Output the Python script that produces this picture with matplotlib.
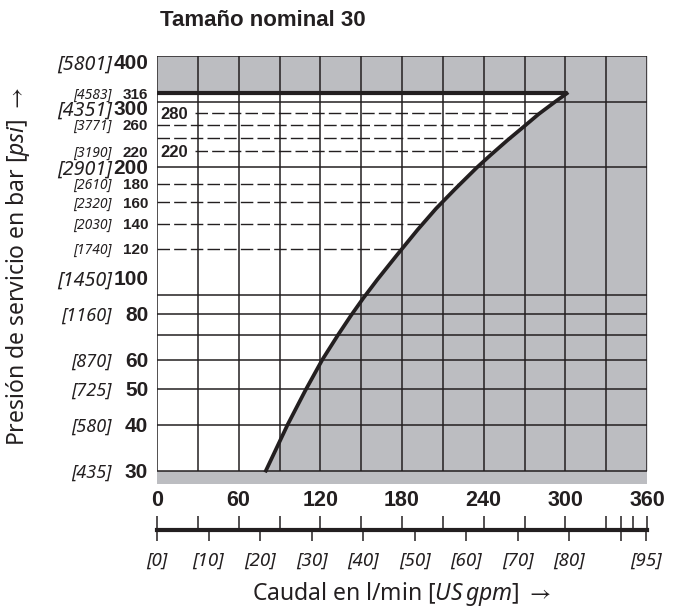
import numpy as np
import matplotlib
matplotlib.use('Agg')
import matplotlib.pyplot as plt
import matplotlib.transforms as mtransforms

plt.rcParams['font.family'] = ['Noto Sans', 'DejaVu Sans']
plt.rcParams['mathtext.fontset'] = 'custom'
plt.rcParams['mathtext.rm'] = 'Noto Sans'
plt.rcParams['mathtext.it'] = 'Noto Sans:italic'
plt.rcParams['mathtext.fallback'] = 'stixsans'

# limit curve: pressure in bar vs flow in l/min
curve_bar = [30, 40, 49.5, 60, 70, 79, 88, 99, 115.5, 135, 154, 174, 199,
             215, 236, 256, 278, 300, 316]
curve_lpm = [80, 96, 109, 121.5, 133, 142.5, 151.5, 162, 176.5, 191.5, 205,
             219, 235, 245, 257.5, 269, 280.5, 292.5, 301]
p_max = 316

# horizontal grid (solid) and the dashed pressure steps
grid_bar = [30, 40, 50, 60, 70, 80, 90, 200, 300, 400]
dashed_bar = [280, 260, 240, 220, 180, 160, 140, 120]
inner_labels = [280, 220]

# left hand labels, bar and [psi]
bar_ticks = [400, 316, 300, 260, 220, 200, 180, 160, 140, 120, 100, 80, 60, 50, 40, 30]
psi_ticks = [5801, 4583, 4351, 3771, 3190, 2901, 2610, 2320, 2030, 1740, 1450,
             1160, 870, 725, 580, 435]
big_ticks = [400, 300, 200, 100]
mid_ticks = [80, 60, 50, 40, 30]

# flow scales
lpm_grid = list(range(0, 361, 30))
lpm_labels = [0, 60, 120, 180, 240, 300, 360]
lpm_extra = [350]
gpm_ticks = [0, 10, 20, 30, 40, 50, 60, 70, 80, 90, 95]
gpm_labels = ['[0]', '[10]', '[20]', '[30]', '[40]', '[50]', '[60]', '[70]',
              '[80]', '', '[95]']
LPM_PER_GPM = 3.785

DARK = '#231f20'
GRAY = '#bcbdc1'
BOLD = ['Liberation Sans', 'DejaVu Sans']
Y_LOW = 27.6
Y_TOP = 400

fig = plt.figure(figsize=(6.75, 6.11), dpi=100)
ax = fig.add_axes([157/675, 1 - 484/611, 490/675, (484 - 55.7)/611])
ax.set_yscale('log')
ax.set_xlim(0, 360)
ax.set_ylim(Y_LOW, Y_TOP)
ax.axis('off')

# grey (not allowed) area: right of the curve plus the band above p_max
ax.fill_betweenx(curve_bar + [p_max, Y_TOP], curve_lpm + [0, 0], 360,
                 color=GRAY, lw=0, zorder=1)
ax.axhspan(Y_LOW, 30, color=GRAY, lw=0, zorder=1)

# grid
ax.vlines(lpm_grid, 30, Y_TOP, color=DARK, lw=1.1, zorder=2)
ax.hlines(grid_bar, 0, 360, color=DARK, lw=1.1, zorder=2)

# dashed lines stop at the curve
for p in dashed_bar:
    x_end = np.interp(p, curve_bar, curve_lpm)
    x0 = 28 if p in inner_labels else 0
    ax.plot([x0, x_end], [p, p], color=DARK, lw=1, dashes=(9, 3), zorder=2)
    if p in inner_labels:
        ax.text(2.3, p, str(p), fontsize=12, fontweight='bold', family=BOLD,
                color=DARK, ha='left', va='center_baseline', zorder=3)

ax.plot(curve_lpm, curve_bar, color=DARK, lw=2.7, zorder=4)
ax.hlines(p_max, 0, curve_lpm[-1], color=DARK, lw=3, zorder=4)

# left labels
trans = mtransforms.blended_transform_factory(ax.transAxes, ax.transData)
for b, psi in zip(bar_ticks, psi_ticks):
    if b in big_ticks:
        vs, ps = 15, 14.2
    elif b in mid_ticks:
        vs, ps = 15, 13
    else:
        vs, ps = 11, 10
    shift = {400: -6, 300: -6}.get(b, 0)
    tr = mtransforms.offset_copy(trans, fig=fig, y=shift, units='dots')
    ax.text(-0.018, b, str(b), transform=tr, ha='right', va='center_baseline',
            fontsize=vs, fontweight='bold', family=BOLD, color=DARK)
    ax.text(-0.092, b, f'[{psi}]', transform=tr, ha='right',
            va='center_baseline', fontsize=ps, style='italic', color=DARK)

# bottom flow scale
axb = fig.add_axes([157/675, 1 - 529.5/611, 490/675, 0])
axb.set_xlim(0, 360)
axb.set_yticks([])
for s in ['left', 'right', 'top']:
    axb.spines[s].set_visible(False)
axb.spines['bottom'].set_linewidth(3)
axb.spines['bottom'].set_color(DARK)
axb.set_xticks(lpm_labels)
axb.set_xticks(lpm_grid + lpm_extra + [gpm_ticks[9] * LPM_PER_GPM], minor=True)
axb.tick_params(axis='x', which='both', bottom=False, top=True,
                labelbottom=False, labeltop=True, direction='out',
                length=10, width=1.1, color=DARK, pad=3, labelsize=15.5,
                labelcolor=DARK)
for lab in axb.get_xticklabels():
    lab.set_fontweight('bold')
    lab.set_family(BOLD)

sec = axb.secondary_xaxis('bottom', functions=(lambda x: x / LPM_PER_GPM,
                                               lambda g: g * LPM_PER_GPM))
sec.set_xticks(gpm_ticks, labels=gpm_labels)
sec.tick_params(direction='out', length=8, width=1.1, color=DARK, pad=8,
                labelsize=13.5, labelcolor=DARK)
sec.spines['bottom'].set_visible(False)
for lab in sec.get_xticklabels():
    lab.set_fontstyle('italic')

fig.text(401/675, 1 - 594/611, r'Caudal en l/min $\it{[US\,gpm]}$ $\rightarrow$',
         ha='center', va='center', fontsize=16.5, color=DARK)
fig.text(18/675, 1 - 267/611,
         r'Presión de servicio en bar $\it{[psi]}$ $\rightarrow$',
         rotation=90, ha='center', va='center', fontsize=16.5, color=DARK)
fig.text(160/675, 1 - 26/611, 'Tamaño nominal 30', fontweight='bold',
         family=BOLD, fontsize=16, ha='left', va='baseline', color=DARK)

fig.savefig('out.png', dpi=100)
